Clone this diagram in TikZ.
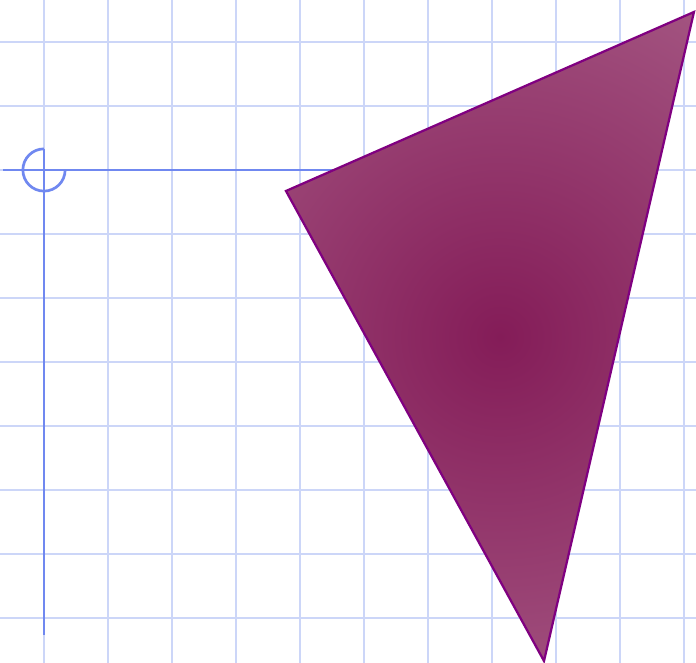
\documentclass[tikz,border=0pt]{standalone}
\begin{document}
\begin{tikzpicture}[x=1cm,y=1cm,
  gridline/.style={draw=gridblue,line width=1pt},
  axisline/.style={draw=axisblue,line width=1.2pt},
  trishade/.style={inner color=triinner,outer color=triouter},
  triedge/.style={draw=trioutline,line width=1pt}]
\definecolor{gridblue}{RGB}{204,214,248}
\definecolor{axisblue}{RGB}{112,136,240}
\definecolor{trioutline}{RGB}{128,0,128}
\definecolor{triinner}{RGB}{132,28,88}
\definecolor{triouter}{RGB}{164,86,130}
\useasboundingbox (-0.6875,-7.703) rectangle (10.1875,2.656);
\clip (-0.6875,-7.703) rectangle (10.1875,2.656);
\foreach \i in {0,...,10} \draw[gridline] (\i,-8) -- (\i,3);
\foreach \j in {-8,...,2} \draw[gridline] (-1,\j) -- (11,\j);
\coordinate (hs) at (-0.64,0);
\coordinate (he) at (5,0);
\coordinate (vs) at (0,0.33);
\coordinate (ve) at (0,-7.27);
\draw[axisline] (hs) -- (he);
\draw[axisline] (vs) -- (ve);
\draw[axisline] (0,0.33) arc[start angle=90,end angle=360,radius=0.33];
\coordinate (A) at (3.781,-0.328);
\coordinate (B) at (10.156,2.469);
\coordinate (C) at (7.8125,-7.672);
\coordinate (M) at (7.125,-2.61);
\begin{scope}
\clip (A) -- (B) -- (C) -- cycle;
\fill[triouter] (A) -- (B) -- (C) -- cycle;
\shade[trishade] (M) circle (6.2);
\end{scope}
\path[triedge] (A) -- (B) -- (C) -- cycle;
\end{tikzpicture}
\end{document}
